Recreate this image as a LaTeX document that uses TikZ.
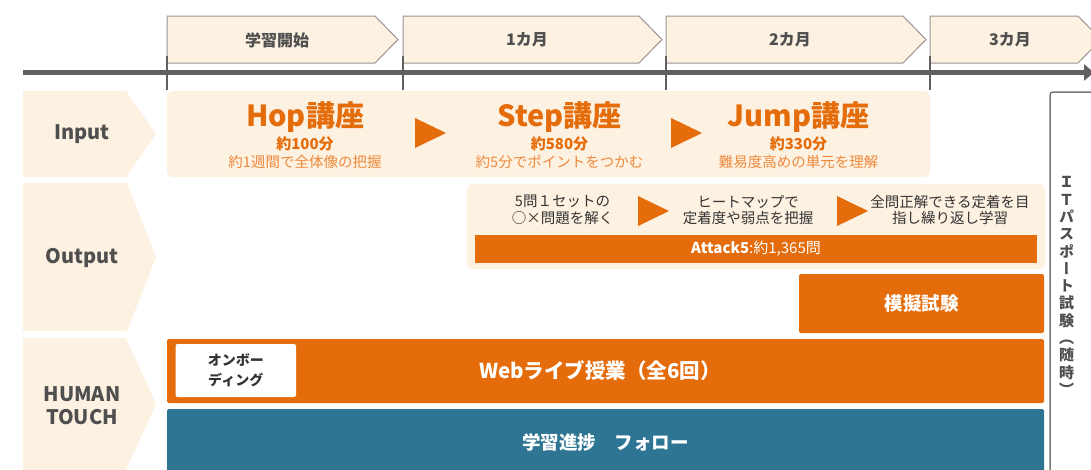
\documentclass[tikz,border=0pt]{standalone}
\usepackage{fontspec}
\setmainfont{Noto Sans CJK JP}
\newfontfamily\vertfont[RawFeature=+vert]{Noto Sans CJK JP}
\usepackage{tikz}
\usetikzlibrary{arrows.meta,positioning}
\definecolor{orng}{HTML}{E46C0A}
\definecolor{lorng}{HTML}{EE8A3E}
\definecolor{cream}{HTML}{FDF1E1}
\definecolor{tealbox}{HTML}{2D7593}
\definecolor{tlgrey}{HTML}{606060}
\definecolor{tabgrey}{HTML}{959595}
\definecolor{txgrey}{HTML}{4F4F4F}
\definecolor{itgrey}{HTML}{333333}

\begin{document}
\begin{tikzpicture}[x=1pt,y=-1pt,
  lbl/.style={font=\fontsize{20}{23}\selectfont\bfseries,text=txgrey,align=center},
  tabtxt/.style={font=\fontsize{16}{18}\selectfont\bfseries,text=txgrey},
  tabshape/.style={fill=cream,draw=tabgrey,line width=1pt},
  title/.style={font=\fontsize{29}{34}\selectfont\bfseries,text=orng},
  mins/.style={font=\fontsize{15}{18}\selectfont\bfseries,text=orng},
  desc/.style={font=\fontsize{14.5}{17}\selectfont,text=lorng},
  item/.style={font=\fontsize{14.5}{16.6}\selectfont,text=itgrey,align=center},
  panel/.style={fill=cream,rounded corners=6pt,inner sep=0pt},
  bar/.style={fill=orng,rounded corners=2pt,inner sep=0pt,text=white},
  tri/.style={fill=orng},
  tick/.style={draw=tlgrey,line width=1.5pt},
]
\useasboundingbox (0,0) rectangle (1091,469);
% row labels
\fill[cream] (23,91) -- (126,91) -- (156,134) -- (126,177) -- (23,177) -- cycle;
\fill[cream] (23,183) -- (127,183) -- (156,257) -- (127,331) -- (23,331) -- cycle;
\fill[cream] (23,338) -- (126,338) -- (156,404) -- (126,470) -- (23,470) -- cycle;
\node[lbl] (inlbl) at (82,134) {Input};
\node[lbl] (outlbl) at (82,258) {Output};
\node[lbl] (htlbl) at (82,406) {HUMAN\\TOUCH};
% timeline tabs
\draw[tabshape] (167,16) -- (375,16) -- (398,39.5) -- (375,63) -- (167,63) -- cycle;
\draw[tabshape] (403,16) -- (639,16) -- (662,39.5) -- (639,63) -- (403,63) -- cycle;
\draw[tabshape] (666,16) -- (903,16) -- (926,39.5) -- (903,63) -- (666,63) -- cycle;
\draw[tabshape] (930,16) -- (1078,16) -- (1101,39.5) -- (1078,63) -- (930,63) -- cycle;
\node[tabtxt] (t0) at (277,40) {学習開始};
\node[tabtxt] (t1) at (527,40) {1カ月};
\node[tabtxt] (t2) at (790,40) {2カ月};
\node[tabtxt] (t3) at (1010,40) {3カ月};
% time axis
\coordinate (ax0) at (23,72.5);
\coordinate (ax1) at (1094,72.5);
\draw[tlgrey,line width=5pt,-{Triangle[length=10pt,width=16pt]}] (ax0) -- (ax1);
\foreach \x in {167,403,666,930}
  \draw[tick] (\x,56) -- (\x,90);
% input
\node[panel,minimum width=763pt,minimum height=86pt] (inbox) at (548.5,134) {};
\node[title] (hop) at (305,117) {Hop講座};
\node[mins] (hopm) at (305,144) {約100分};
\node[desc] (hopd) at (305,162) {約1週間で全体像の把握};
\node[title] (step) at (559.5,117) {Step講座};
\node[mins] (stepm) at (559.5,144) {約580分};
\node[desc] (stepd) at (559.5,162) {約5分でポイントをつかむ};
\node[title] (jump) at (798.5,117) {Jump講座};
\node[mins] (jumpm) at (798.5,144) {約330分};
\node[desc] (jumpd) at (798.5,162) {難易度高めの単元を理解};
\fill[tri] (415,118) -- (446,133) -- (415,148) -- cycle;
\fill[tri] (671,118) -- (702,133) -- (671,148) -- cycle;
% output
\node[panel,minimum width=578pt,minimum height=85pt] (outbox) at (756,226.5) {};
\node[item] (o1) at (562.5,210) {5問１セットの\\○×問題を解く};
\node[item] (o2) at (748,210) {ヒートマップで\\定着度や弱点を把握};
\node[item] (o3) at (950,210) {全問正解できる定着を目\\指し繰り返し学習};
\fill[tri] (638,196) -- (669,211) -- (638,226) -- cycle;
\fill[tri] (837,196) -- (868,211) -- (837,226) -- cycle;
\node[fill=orng,inner sep=0pt,minimum width=562pt,minimum height=28pt,text=white,
  font=\fontsize{15}{18}\selectfont] (attack) at (756,249) {\textbf{Attack5}:約1,365問};
\node[bar,minimum width=245pt,minimum height=59pt,font=\fontsize{18.5}{22}\selectfont\bfseries]
  (mock) at (921.5,303.5) {模擬試験};
% human touch
\node[bar,minimum width=877pt,minimum height=64pt] (web) at (605.5,371) {};
\node[text=white,font=\fontsize{20.5}{24}\selectfont\bfseries] (webtxt) at (600,371)
  {Webライブ授業（全6回）};
\node[fill=white,rounded corners=2pt,inner sep=0pt,minimum width=120.5pt,minimum height=53pt,
  align=center,text=itgrey,font=\fontsize{14}{20}\selectfont\bfseries]
  (onb) at (235.75,370.5) {オンボー\\ディング};
\node[bar,fill=tealbox,minimum width=877pt,minimum height=66pt,font=\fontsize{18.5}{24}\selectfont\bfseries]
  (follow) at (605.5,442) {学習進捗　フォロー};
% exam
\draw[tabgrey!80!black,line width=1.5pt,rounded corners=3pt] (1050,480) -- (1050,92) -- (1100,92);
\node[align=center,text=txgrey,font=\vertfont\fontsize{15}{17.3}\selectfont\bfseries] (exam) at (1066.5,286)
  {Ｉ\\Ｔ\\パ\\ス\\ポ\\ー\\ト\\試\\験\\（\\随\\時\\）};
\end{tikzpicture}
\end{document}
